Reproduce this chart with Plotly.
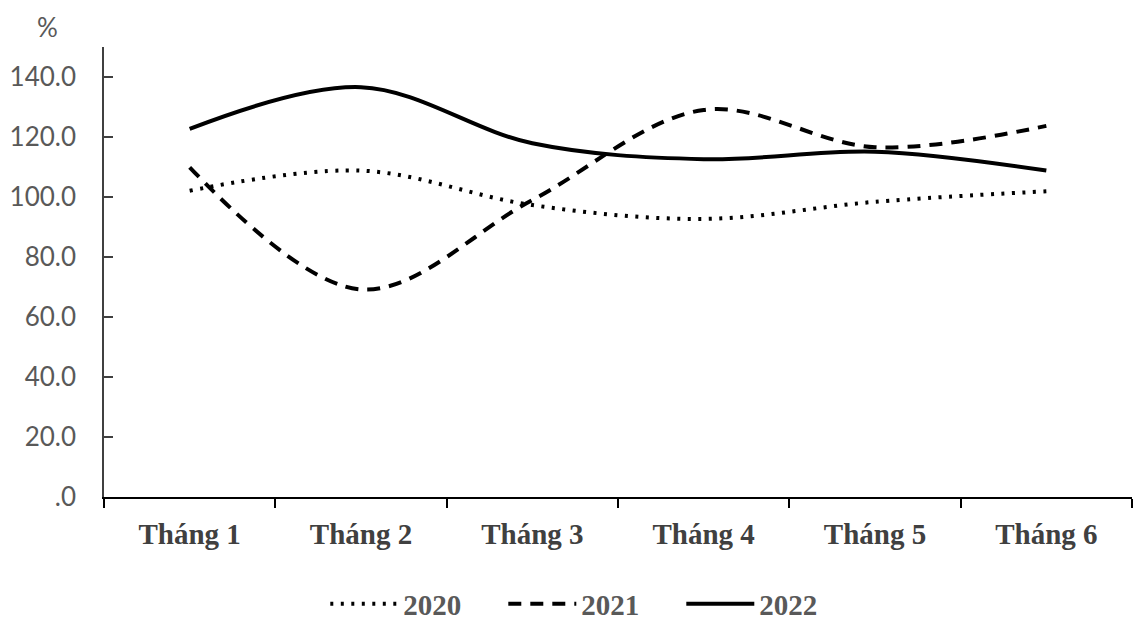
import plotly.graph_objects as go

categories = ["Tháng 1", "Tháng 2", "Tháng 3", "Tháng 4", "Tháng 5", "Tháng 6"]
series_names = ["2020", "2021", "2022"]
values_2020 = [102.1, 108.8, 97.3, 92.7, 98.4, 101.9]
values_2021 = [109.9, 69.2, 99.0, 129.0, 116.6, 123.7]
values_2022 = [122.7, 136.6, 117.9, 112.6, 115.1, 108.8]
y_tick_vals = [0, 20, 40, 60, 80, 100, 120, 140]
y_tick_text = [".0", "20.0", "40.0", "60.0", "80.0", "100.0", "120.0", "140.0"]

dashes = ["3px,7.5px", "13px,9px", "solid"]
all_values = [values_2020, values_2021, values_2022]

fig = go.Figure()
for name, vals, dash in zip(series_names, all_values, dashes):
    fig.add_trace(go.Scatter(
        x=categories, y=vals, name=name, mode="lines",
        line=dict(color="black", width=4, dash=dash, shape="spline", smoothing=1.0),
    ))

fig.update_layout(
    width=1141, height=620,
    margin=dict(l=104, r=9, t=47, b=123, autoexpand=False),
    paper_bgcolor="white", plot_bgcolor="white",
    showlegend=True,
    legend=dict(
        orientation="h", x=0.475, xanchor="center", y=(497 - 604) / 450, yanchor="middle",
        font=dict(family="Liberation Serif", size=29, color="#595959", weight="bold"),
        itemwidth=68, traceorder="normal",
        entrywidth=95, entrywidthmode="pixels",
    ),
    annotations=[dict(
        text="%", xref="paper", yref="paper", x=(47 - 104) / 1028, y=(497 - 27) / 450,
        showarrow=False, font=dict(family="Lato", size=26, color="#595959"),
        xanchor="center", yanchor="middle",
    )],
)
fig.update_xaxes(
    type="category", range=[-0.5, 5.5],
    showline=True, linecolor="black", linewidth=2,
    ticks="outside", ticklen=9, tickwidth=1.5, tickcolor="black",
    tickson="boundaries", showgrid=False,
    tickfont=dict(family="Liberation Serif", size=29, color="#404040", weight="bold"),
    ticklabelstandoff=10,
)
fig.update_yaxes(
    range=[0, 150], tickvals=y_tick_vals, ticktext=y_tick_text,
    showline=True, linecolor="#404040", linewidth=1.5,
    ticks="inside", ticklen=9, tickwidth=1.5, tickcolor="#404040",
    showgrid=False, zeroline=False,
    tickfont=dict(family="Lato", size=26, color="#595959"),
    ticklabelstandoff=21,
)

fig.write_html(
    "out.html",
    config={"displayModeBar": False},
    post_script="document.body.style.margin='0';document.body.style.overflow='hidden';",
)
